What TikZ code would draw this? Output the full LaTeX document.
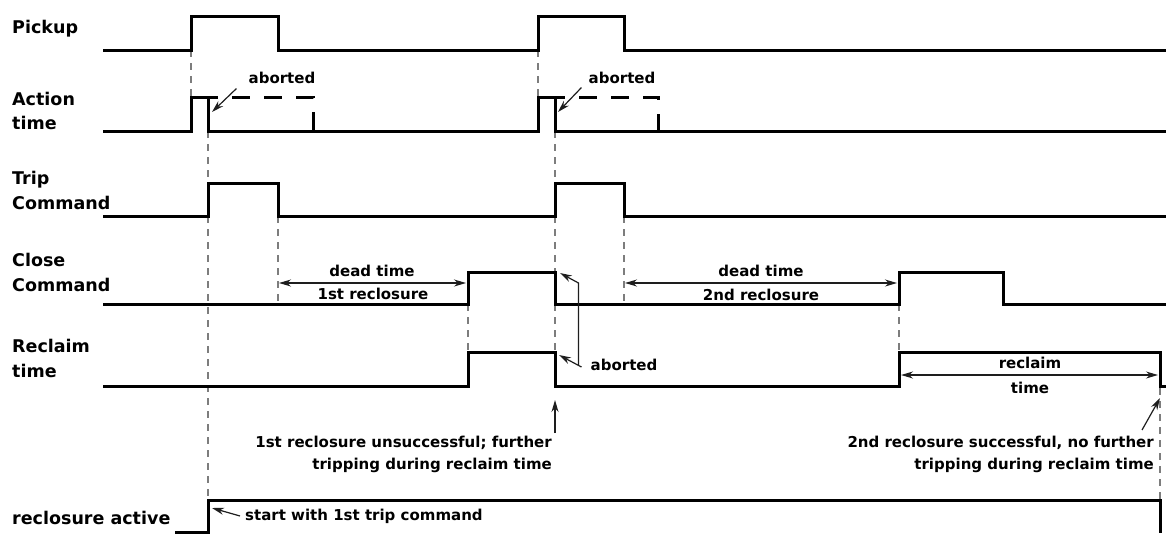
\documentclass[tikz,border=0pt]{standalone}
\usepackage{fontspec}
\newfontfamily\diagfont{DejaVu Sans}
\usepackage{tikz}
\usetikzlibrary{arrows.meta}
\definecolor{GuideGray}{RGB}{125,125,125}
\definecolor{NoteGray}{RGB}{30,30,30}

\tikzset{
  sig/.style={line width=3pt,line join=miter},
  abortsig/.style={line width=3pt,dash pattern=on 18pt off 14pt,dash phase=8pt},
  guide/.style={GuideGray,line width=1.3pt,dash pattern=on 7pt off 6pt},
  note/.style={NoteGray,line width=1.2pt,-{Stealth[length=12pt,width=7pt]}},
  span/.style={NoteGray,line width=1.2pt,{Stealth[length=12pt,width=7pt]}-{Stealth[length=12pt,width=7pt]}},
  lbl/.style={anchor=west,align=left,inner sep=0pt,font=\fontsize{17.5}{24.5}\selectfont\diagfont\bfseries},
  txt/.style={inner sep=0pt,font=\fontsize{15}{22}\selectfont\diagfont\bfseries},
}

\begin{document}
\begin{tikzpicture}[x=1pt,y=-1pt]
  \useasboundingbox (0,0) rectangle (1166,533);

  % signal names
  \node[lbl] (pickup)  at (12,29)    {Pickup};
  \node[lbl] (action)  at (12,111)   {Action\\time};
  \node[lbl] (trip)    at (12,190.5) {Trip\\Command};
  \node[lbl] (close)   at (12,272.5) {Close\\Command};
  \node[lbl] (reclaim) at (12,358.5) {Reclaim\\time};
  \node[lbl] (active)  at (12,518)   {reclosure active};

  % guide lines
  \draw[guide] (191,50) -- (191,97);
  \draw[guide] (538,50) -- (538,97);
  \draw[guide] (208,131) -- (208,183);
  \draw[guide] (208,216) -- (208,500);
  \draw[guide] (555,131) -- (555,183);
  \draw[guide] (555,216) -- (555,272);
  \draw[guide] (555,304) -- (555,352);
  \draw[guide] (278,216) -- (278,304);
  \draw[guide] (624,216) -- (624,304);
  \draw[guide] (468,304) -- (468,352);
  \draw[guide] (899,304) -- (899,352);
  \draw[guide] (1160,388) -- (1160,500);

  % signals
  \draw[sig] (103,50) -- (191,50) -- (191,16) -- (278,16) -- (278,50) -- (538,50)
    -- (538,16) -- (624,16) -- (624,50) -- (1166,50);
  \draw[sig] (103,131) -- (191,131) -- (191,97) -- (208,97) -- (208,131) -- (538,131)
    -- (538,97) -- (555,97) -- (555,131) -- (1166,131);
  \draw[abortsig] (208,97) -- (313,97) -- (313,131);
  \draw[abortsig] (555,97) -- (658,97) -- (658,131);
  \draw[sig] (103,216) -- (208,216) -- (208,183) -- (278,183) -- (278,216) -- (555,216)
    -- (555,183) -- (624,183) -- (624,216) -- (1166,216);
  \draw[sig] (103,304) -- (468,304) -- (468,272) -- (555,272) -- (555,304) -- (899,304)
    -- (899,272) -- (1003,272) -- (1003,304) -- (1166,304);
  \draw[sig] (103,386) -- (468,386) -- (468,352) -- (555,352) -- (555,386) -- (899,386)
    -- (899,352) -- (1160,352) -- (1160,386) -- (1166,386);
  \draw[sig] (175,532) -- (208,532) -- (208,500) -- (1160,500) -- (1160,533);

  % aborted action times
  \node[txt] (abortA) at (282,78) {aborted};
  \node[txt] (abortB) at (622,78) {aborted};
  \coordinate (tipA) at (212,112);
  \coordinate (tipB) at (558,112);
  \draw[note] ([shift={(-12,4.5)}]abortA.south west) -- (tipA);
  \draw[note] ([shift={(-7,3.5)}]abortB.south west) -- (tipB);

  % dead times
  \coordinate (dt1a) at (279,283);
  \coordinate (dt1b) at (466,283);
  \coordinate (dt2a) at (625,283);
  \coordinate (dt2b) at (897,283);
  \draw[span] (dt1a) -- (dt1b);
  \draw[span] (dt2a) -- (dt2b);
  \node[txt] (dead1)  at (372,271) {dead time};
  \node[txt] (recl1)  at (373,294) {1st reclosure};
  \node[txt] (dead2)  at (761,271) {dead time};
  \node[txt] (recl2)  at (761,295) {2nd reclosure};

  % reclaim time
  \coordinate (rta) at (901,375);
  \coordinate (rtb) at (1158,375);
  \draw[span] (rta) -- (rtb);
  \node[txt] (rcl)  at (1030,363) {reclaim};
  \node[txt] (rctm) at (1030,388) {time};

  % aborted close / reclaim
  \node[txt] (abortC) at (624,365) {aborted};
  \coordinate (tipC1) at (559,355);
  \coordinate (tipC2) at (560,273);
  \draw[note] ([shift={(-9,2)}]abortC.west) -- (tipC1);
  \draw[note] ([shift={(-12,0)}]abortC.west) -- ++(0,-82) -- (tipC2);

  % outcomes
  \node[txt,anchor=east,align=right] (fail) at (552,454)
    {1st reclosure unsuccessful; further\\tripping during reclaim time};
  \node[txt,anchor=east,align=right] (succ) at (1154,454)
    {2nd reclosure successful, no further\\tripping during reclaim time};
  \coordinate (failFrom) at (555,433);
  \coordinate (failTo)   at (555,400);
  \coordinate (succFrom) at (1142,430);
  \coordinate (succTo)   at (1160,398);
  \draw[note] (failFrom) -- (failTo);
  \draw[note] (succFrom) -- (succTo);

  % start of reclosure
  \node[txt,anchor=west] (start) at (245,516) {start with 1st trip command};
  \coordinate (startTip) at (212,508);
  \draw[note] ([xshift=-5pt]start.west) -- (startTip);
\end{tikzpicture}
\end{document}
